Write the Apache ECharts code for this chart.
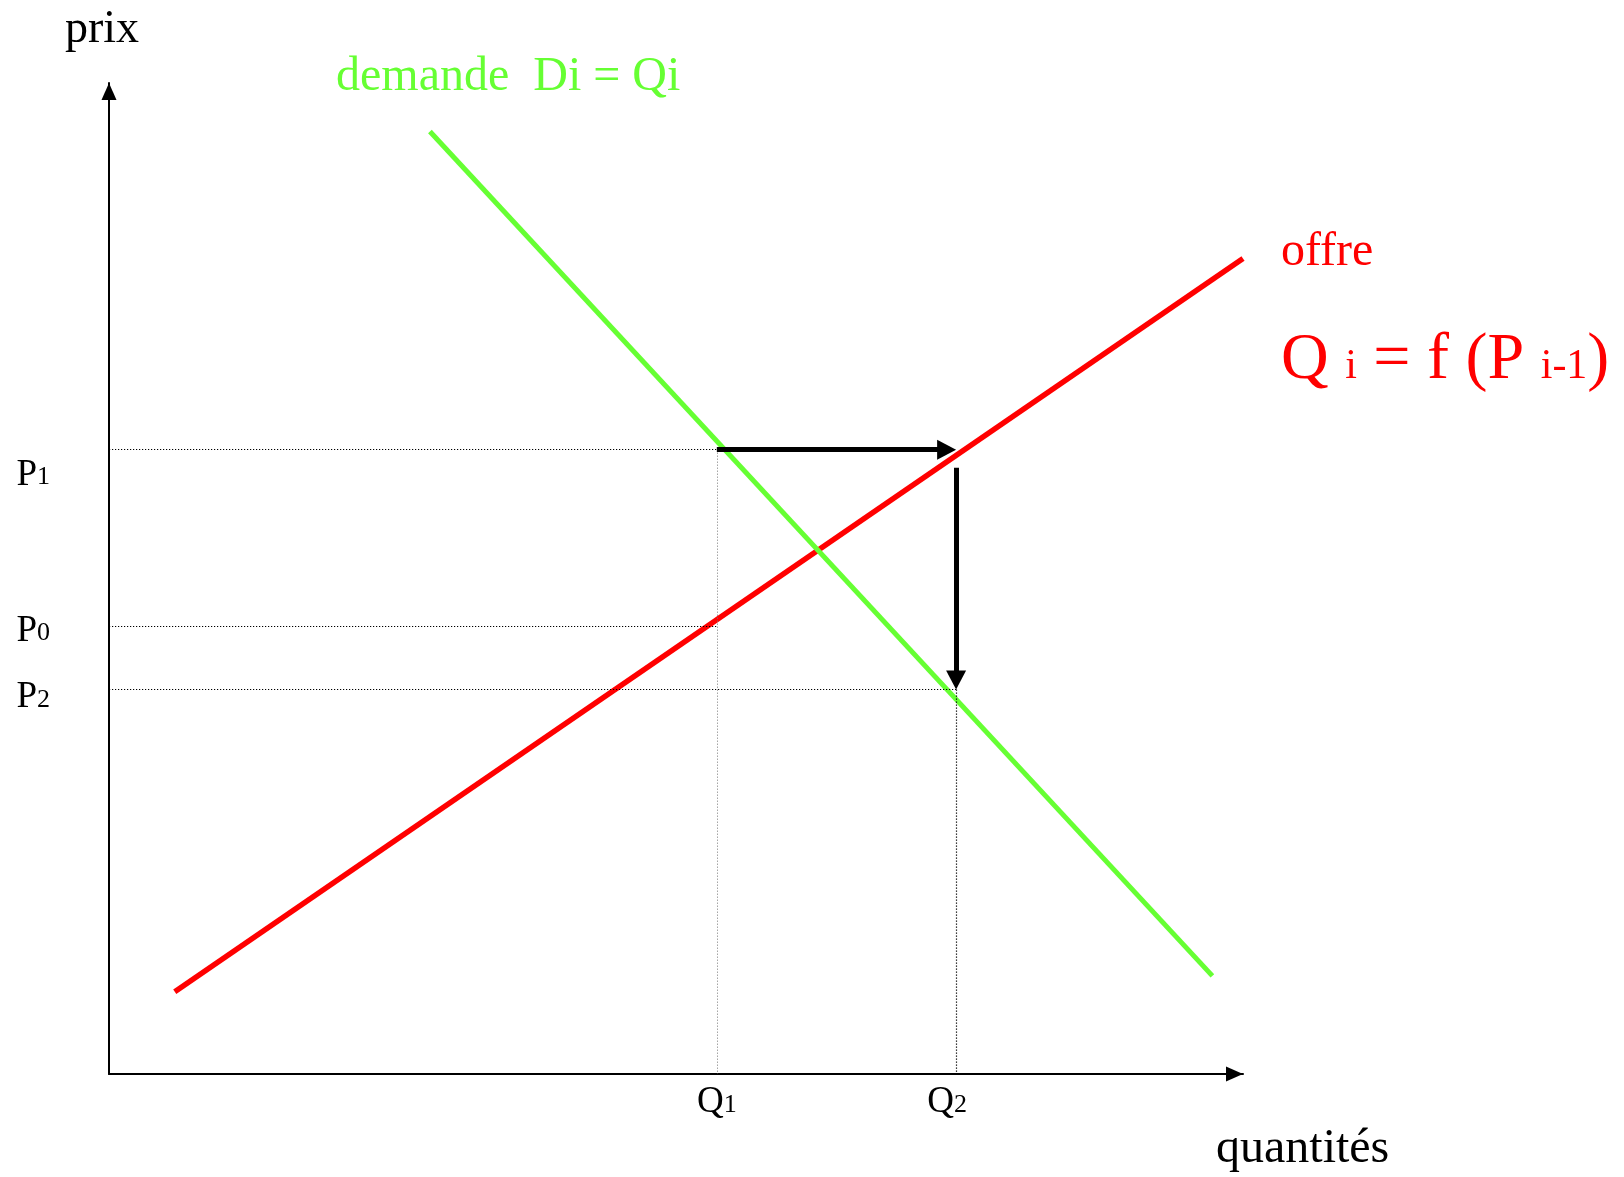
<!DOCTYPE html>
<html>
<head>
	<meta charset="utf-8">
	<title>offre et demande</title>
	<script src="https://cdn.jsdelivr.net/npm/echarts@6/dist/echarts.min.js"></script>
	<style type="text/css">
		html, body { margin: 0; padding: 0; background-color: #fff; }
		#marketChart { width: 1624px; height: 1177px; }
	</style>
</head>
<body>
<div id="marketChart"></div>

<script>
	// valeurs (unités 0-100 sur chaque axe)
	const priceNames = ['P1', 'P0', 'P2'];
	const priceValues = [63.0, 45.2, 38.8];
	const qtyNames = ['Q1', 'Q2'];
	const qtyValues = [53.6, 74.7];
	const demandPoints = [[28.3, 95.1], [97.3, 9.9]];
	const supplyPoints = [[5.8, 8.3], [100, 82.3]];

	const FONT = '"Liberation Serif", "Times New Roman", serif';
	const GREEN = '#66ff33';
	const RED = '#ff0000';
	const GRID = { left: 109, right: 381, top: 83, bottom: 103 };
	const ARROW = [20, 19];

	// px par unité, pour reculer la fin des flèches de la demi-pointe
	let pxX = (1624 - GRID.left - GRID.right) / 100;
	let pxY = (1177 - GRID.top - GRID.bottom) / 100;

	let P1 = priceValues[0], P0 = priceValues[1], P2 = priceValues[2];
	let Q1 = qtyValues[0], Q2 = qtyValues[1];

	// lignes pointillées de repère
	let dotted = { color: '#000', width: 1.2, type: [1.2, 1.8] };
	let guides = [
		[[0, P1], [Q1, P1], dotted],
		[[0, P0], [Q1, P0], dotted],
		[[0, P2], [Q2, P2], dotted],
		[[Q1, P1], [Q1, 0], { color: '#777', width: 1, type: [1, 2] }],
		[[Q2, P2], [Q2, 0], dotted]
	];
	// flèches du cobweb
	let arrows = [
		[[Q1, P1], [Q2 - ARROW[1] / 2 / pxX, P1]],
		[[Q2, P1 - 18 / pxY], [Q2, P2 + ARROW[1] / 2 / pxY]]
	];

	function subLabel(names, values, shift) {
		return function (v) {
			let name = names[values.indexOf(v)];
			if (!name) return '';
			let k = shift[name] || '';
			return '{n' + k + '|' + name.charAt(0) + '}{s|' + name.slice(1) + '}';
		};
	}

	let labelRich = {
		n: { fontFamily: FONT, fontSize: 37, color: '#000', verticalAlign: 'bottom', padding: [10, 0, 0, 0] },
		nLow: { fontFamily: FONT, fontSize: 37, color: '#000', verticalAlign: 'bottom', padding: [51, 0, 0, 0] },
		nMid: { fontFamily: FONT, fontSize: 37, color: '#000', verticalAlign: 'bottom', padding: [16, 0, 0, 0] },
		s: { fontFamily: FONT, fontSize: 26, color: '#000', verticalAlign: 'bottom', padding: [0, 0, 3, 0] }
	};
	let qtyRich = {
		nTop: { fontFamily: FONT, fontSize: 37, color: '#000', verticalAlign: 'bottom' },
		s: { fontFamily: FONT, fontSize: 26, color: '#000', verticalAlign: 'bottom', padding: [0, 0, 3, 0] },
		sLeft: { fontFamily: FONT, fontSize: 26, color: '#000', verticalAlign: 'bottom', padding: [0, 18, 3, 0] }
	};

	let chart = echarts.init(document.getElementById('marketChart'));
	let options = {
		animation: false,
		backgroundColor: '#fff',
		grid: GRID,
		xAxis: {
			type: 'value',
			min: 0,
			max: 100,
			name: '{q|quantités}',
			nameLocation: 'end',
			nameGap: -27,
			nameTextStyle: {
				rich: { q: { fontFamily: FONT, fontSize: 48, color: '#000', padding: [150, 0, 0, 0] } }
			},
			axisLine: {
				onZero: false,
				symbol: ['none', 'triangle'],
				symbolSize: [15, 17],
				symbolOffset: [0, -8.5],
				lineStyle: { color: '#000', width: 2 }
			},
			axisTick: { show: false },
			splitLine: { show: false },
			axisLabel: {
				customValues: qtyValues,
				margin: 10,
				formatter: function (v) {
					let name = qtyNames[qtyValues.indexOf(v)];
					if (!name) return '';
					let k = name === 'Q2' ? 'Left' : '';
					return '{nTop|' + name.charAt(0) + '}{s' + k + '|' + name.slice(1) + '}';
				},
				rich: qtyRich
			}
		},
		yAxis: {
			type: 'value',
			min: 0,
			max: 100,
			name: 'prix',
			nameLocation: 'end',
			nameGap: 30,
			nameTextStyle: { fontFamily: FONT, fontSize: 46, color: '#000', padding: [0, 14, 0, 0] },
			axisLine: {
				onZero: false,
				symbol: ['none', 'triangle'],
				symbolSize: [15, 17],
				symbolOffset: [0, -8.5],
				lineStyle: { color: '#000', width: 2 }
			},
			axisTick: { show: false },
			splitLine: { show: false },
			axisLabel: {
				customValues: priceValues,
				margin: 59,
				formatter: subLabel(priceNames, priceValues, { P1: 'Low', P2: 'Mid' }),
				rich: labelRich
			}
		},
		series: [
			{
				type: 'line',
				name: 'repères',
				data: [],
				silent: true,
				z: 1,
				markLine: {
					silent: true,
					symbol: 'none',
					label: { show: false },
					data: guides.map(function (g) {
						return [{ coord: g[0], lineStyle: g[2] }, { coord: g[1] }];
					})
				}
			},
			{
				type: 'line',
				name: 'offre',
				data: supplyPoints,
				symbol: 'none',
				silent: true,
				z: 3,
				lineStyle: { color: RED, width: 5.5 }
			},
			{
				type: 'line',
				name: 'demande',
				data: demandPoints,
				symbol: 'none',
				silent: true,
				z: 4,
				lineStyle: { color: GREEN, width: 5 }
			},
			{
				type: 'line',
				name: 'flèches',
				data: [],
				silent: true,
				z: 6,
				markLine: {
					silent: true,
					symbol: ['none', 'triangle'],
					symbolSize: ARROW,
					label: { show: false },
					lineStyle: { color: '#000', width: 5, type: 'solid' },
					data: arrows.map(function (a) {
						return [{ coord: a[0] }, { coord: a[1] }];
					})
				}
			}
		],
		graphic: [
			{
				type: 'text', x: 336, y: 77,
				style: { text: 'demande  Di = Qi', fill: GREEN, fontFamily: FONT, fontSize: 48, verticalAlign: 'middle' }
			},
			{
				type: 'text', x: 1281, y: 252,
				style: { text: 'offre', fill: RED, fontFamily: FONT, fontSize: 48, verticalAlign: 'middle' }
			},
			{
				type: 'text', x: 1281, y: 361,
				style: {
					text: '{b|Q} {s|i} = f (P {s|i-1}{b|)}',
					fill: RED, fontFamily: FONT, fontSize: 66, verticalAlign: 'middle',
					rich: {
						b: { fill: RED, fontFamily: FONT, fontSize: 66, verticalAlign: 'bottom' },
						s: { fill: RED, fontFamily: FONT, fontSize: 42, verticalAlign: 'bottom', padding: [0, 0, 6, 0] }
					}
				}
			}
		]
	};
	chart.setOption(options);
</script>
</body>
</html>
